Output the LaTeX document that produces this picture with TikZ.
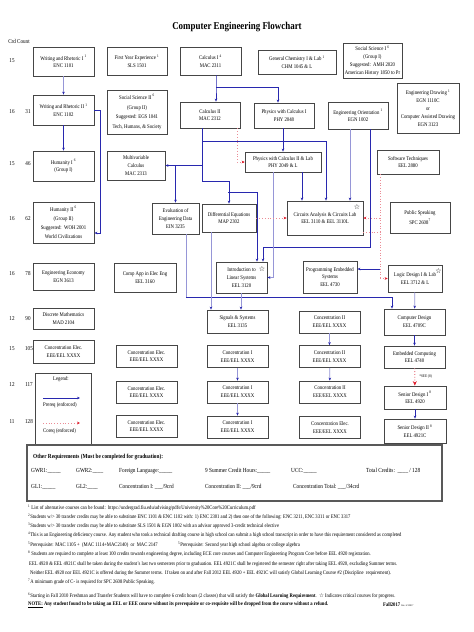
\documentclass[tikz,border=0pt]{standalone}
\usepackage{fontspec}
\setmainfont{Liberation Serif}[FakeStretch=0.85]
\newfontfamily\symfont{DejaVu Sans}
\usetikzlibrary{arrows.meta}
\definecolor{prqc}{RGB}{40,40,175}
\definecolor{prqp}{RGB}{150,150,215}
\definecolor{crqc}{RGB}{225,30,45}
\definecolor{crqp}{RGB}{235,140,150}
\definecolor{boxc}{RGB}{70,70,70}
\newcommand\crsfont{\fontsize{5.6}{7.8}\selectfont}
\newcommand\cntfont{\fontsize{6}{7}\selectfont}
\newcommand\notefont{\fontsize{5.45}{6}\selectfont}
\newcommand\reqfont{\fontsize{6.2}{7}\selectfont}
\tikzset{
  course/.style={draw=boxc, line width=0.8pt, align=center, inner sep=0.5pt, font=\crsfont},
  crs/.style 2 args={course, minimum width=#1pt, minimum height=#2pt},
  cnt/.style={font=\cntfont, inner sep=0pt},
  note/.style={font=\notefont, anchor=west, inner sep=0pt},
  req/.style={font=\reqfont, anchor=west, inner sep=0pt},
  prq/.style={draw=prqc, line width=0.8pt, -{Stealth[length=3pt,width=2.6pt]}},
  prql/.style={draw=prqp, line width=0.7pt, -{Stealth[length=3pt,width=2.6pt,color=prqc]}},
  crq/.style={draw=crqp, line width=0.8pt, dotted, -{Stealth[length=3pt,width=2.8pt,color=crqc]}},
  crql/.style={draw=crqp, line width=0.7pt, dotted},
  crit/.style={font=\symfont\bfseries\fontsize{7}{7}\selectfont, inner sep=0pt}
}
\begin{document}
\begin{tikzpicture}[x=1pt,y=-1pt]
\useasboundingbox (0,0) rectangle (474,632);
\fill[white] (0,0) rectangle (474,632);

\node[font=\bfseries\fontsize{10.5}{12}\selectfont] (ttl) at (237,27) {Computer Engineering Flowchart};

% credit counts
\node[cnt] (crd) at (19,41) {Crd Count};
\node[cnt] (ta) at (12,61) {15};
\node[cnt] (tb) at (12,112) {16}; \node[cnt] (sb) at (28,112) {31};
\node[cnt] (tc) at (12,164) {15}; \node[cnt] (sc) at (28,164) {46};
\node[cnt] (td) at (12,219) {16}; \node[cnt] (sd) at (28,219) {62};
\node[cnt] (te) at (12,274) {16}; \node[cnt] (se) at (28,274) {78};
\node[cnt] (tf) at (12,319) {12}; \node[cnt] (sf) at (28,319) {90};
\node[cnt] (tg) at (12,349) {15}; \node[cnt] (sg) at (29,349) {105};
\node[cnt] (th) at (12,385) {12}; \node[cnt] (sh) at (29,385) {117};
\node[cnt] (ti) at (12,422) {11}; \node[cnt] (si) at (29,422) {128};

% row 1
\node[crs={61}{29}] (wrI) at (63.5,61.5) {Writing and Rhetoric I \textsuperscript{1}\\ENC 1101};
\node[crs={60}{28}] (fye) at (137,61) {First Year Experience \textsuperscript{1}\\SLS 1501};
\node[crs={61}{28}] (calI) at (210.5,61) {Calculus I \textsuperscript{4}\\MAC 2311};
\node[crs={78}{24}] (chm) at (297,62) {General Chemistry I \& Lab \textsuperscript{1}\\CHM 1045 \& L};
\node[crs={59}{35}] (socI) at (372.5,60.5) {Social Science I \textsuperscript{6}\\(Group I)\\Suggested:\ \ AMH 2020\\American History 1850 to Pr};
% row 2
\node[crs={61}{30}] (wrII) at (63.5,110) {Writing and Rhetoric II \textsuperscript{1}\\ENC 1102};
\node[crs={60}{44}] (socII) at (137,112) {Social Science II \textsuperscript{6}\\[2pt](Group II)\\[2pt]Suggested: EGS 1041\\[2pt]Tech, Humans, \& Society};
\node[crs={60}{26}] (calII) at (210,115) {Calculus II\\MAC 2312};
\node[crs={60}{25}] (phyI) at (284,115.5) {Physics with Calculus I\\PHY 2048};
\node[crs={60}{27}] (ori) at (358,115.5) {Engineering Orientation \textsuperscript{1}\\EGN 1002};
\node[crs={62}{50}] (drw) at (428,108) {Engineering Drawing \textsuperscript{1}\\EGN 1110C\\or\\Computer Assisted Drawing\\EGN 3123};
% row 3
\node[crs={61}{30}] (humI) at (63.5,166) {Humanity I \textsuperscript{6}\\(Group I)};
\node[crs={58}{29}] (mvc) at (136,165.5) {Multivariable\\Calculus\\MAC 2313};
\node[crs={76}{20}] (phyII) at (283,162) {Physics with Calculus II \& Lab\\PHY 2049 \& L};
\node[crs={62}{24}] (swt) at (408,162) {Software Techniques\\EEL 2880};
% row 4
\node[crs={61}{41}] (humII) at (63.5,222.5) {Humanity II \textsuperscript{6}\\[1.5pt](Group II)\\[1.5pt]Suggested:\ \ WOH 2001\\[1.5pt]World Civilizations};
\node[crs={47}{31}] (ein) at (175.5,218.5) {Evaluation of\\Engineering Data\\EIN 3235};
\node[crs={54}{28}] (map) at (229,218) {Differential Equations\\MAP 2302};
\node[crs={76}{34}] (cir) at (325,218) {Circuits Analysis \& Circuits Lab\\EEL 3110 \& EEL 3110L};
\node[crs={60}{31}] (spc) at (420,217.5) {Public Speaking\\[2pt]SPC 2608\textsuperscript{7}};
% row 5
\node[crs={61}{27}] (eco) at (63.5,276.5) {Engineering Economy\\EGN 3613};
\node[crs={62}{29}] (cae) at (145,277.5) {Comp App in Elec Eng\\EEL 3160};
\node[crs={51}{31}] (lin) at (241.5,277.5) {Introduction to\\Linear Systems\\EEL 3120};
\node[crs={54}{32}] (pes) at (330,277) {Programming Embedded\\Systems\\EEL 4730};
\node[crs={54}{27}] (ldl) at (415,278.5) {Logic Design I \& Lab\hspace{7pt}\\EEL 3712 \& L};
% row 6
\node[crs={61}{21}] (dm) at (63.5,318.5) {Discrete Mathematics\\MAD 2104};
\node[crs={61}{23}] (sig) at (237.5,321.5) {Signals \& Systems\\EEL 3135};
\node[crs={61}{22}] (cIIa) at (329.5,322) {Concentration II\\EEE/EEL XXXX};
\node[crs={61}{26}] (cpd) at (414.5,322) {Computer Design\\EEL 4709C};
% row 7
\node[crs={61}{23}] (ceA) at (63.5,351.5) {Concentration Elec.\\EEE/EEL XXXX};
\node[crs={61}{22}] (ceB) at (146.5,356) {Concentration Elec.\\EEE/EEL XXXX};
\node[crs={61}{22}] (cIa) at (237.5,356.5) {Concentration I\\EEE/EEL XXXX};
\node[crs={61}{22}] (cIIb) at (329.5,356.5) {Concentration II\\EEE/EEL XXXX};
\node[crs={61}{22}] (emc) at (414.5,357) {Embedded Computing\\EEL 4740};
% row 8
\node[crs={61}{22}] (ceC) at (146.5,392) {Concentration Elec.\\EEE/EEL XXXX};
\node[crs={61}{22}] (cIb) at (237.5,392) {Concentration I\\EEE/EEL XXXX};
\node[crs={61}{22}] (cIIc) at (330,392) {Concentration II\\EEE/EEL XXXX};
\node[crs={62}{23}] (sdI) at (415,397.5) {Senior Design I \textsuperscript{8}\\EEL 4920};
% row 9
\node[crs={61}{22}] (ceD) at (146.5,426) {Concentration Elec.\\EEE/EEL XXXX};
\node[crs={61}{22}] (cIc) at (237.5,427) {Concentration I\\EEE/EEL XXXX};
\node[crs={61}{22}] (ceE) at (330,427.5) {Concentration Elec.\\EEE/EEL XXXX};
\node[crs={62}{24}] (sdII) at (415,431) {Senior Design II \textsuperscript{8}\\EEL 4921C};

% critical courses
\node[crit] (kcir) at (357,207) {☆};
\node[crit] (klin) at (262,269) {☆};
\node[crit] (kldl) at (438.5,271) {☆};

% junctions
\coordinate (jcI) at (216,87);
\coordinate (jpI) at (278,87);
\coordinate (jcII) at (202,181);
\coordinate (jcir) at (326,141);
\coordinate (jdq) at (237,140);
\coordinate (jde) at (228,192);
\coordinate (jln) at (257,192);
\coordinate (jpc) at (302,190);
\coordinate (jor) at (350,190);
\coordinate (jeo) at (370,247);
\coordinate (jel) at (263,247);
\coordinate (jpl) at (273,250);
\coordinate (jsw) at (380,278);
\coordinate (jpes) at ([yshift=8pt]pes.east);
\coordinate (jcout) at ([yshift=-14pt]cir.east);
\coordinate (jev) at (186,297);
\coordinate (jcd) at (392,297);
\coordinate (jds) at (211,300);
\coordinate (jls) at (241,300);

\draw[prql] (wrI) -- (wrII);
\draw[prq] (wrII) -- (humI);
\draw[prq] (wrII.east) -- ++(6,0) |- ([yshift=-10.5pt]humII.east);
\draw[prq] (calI.south -| jcI) -- (jcI) -- (jcI |- calII.north);
\draw[prq] (jcI) -- (jpI) -- (jpI |- phyI.north);
\draw[prq,-] (calII.south -| jcII) -- (jcII);
\draw[prq] (jcII |- jcir) -- (jcir) -- (jcir |- cir.north);
\draw[prq] (jcII |- mvc.east) -- (mvc.east);
\draw[prq] (ein.north |- mvc.east) -- (ein.north);
\draw[prq] (jcII) -| (map.north);
\draw[prq] (jde) -- (jln) -- (jln |- lin.north);
\draw[crq] (calII.south -| jdq) |- (phyII.west);
\draw[prq] (phyII.north |- phyI.south) -- (phyII.north);
\draw[prq] (phyII.south -| jpc) -- (jpc |- cir.north);
\draw[prql] (ori.south -| jor) -- (jor |- cir.north);
\draw[prq] (ori.south -| jeo) -- (jeo) -- (jel) -- (jel |- lin.north);
\draw[prql] (phyII.south -| jpl) |- (lin.east);
\draw[crq] (map.east) -- (cir.west);
%software techniques feeds three courses
\draw[crql] (swt.south -| jsw) -- (jsw);
\draw[crql] (jcout) -- (jsw |- jcout);
\draw[crq] (jsw |- cir.east) -- (cir.east);
\draw[prq] (jsw |- jpes) -- (jpes);
\draw[crq] (jsw |- ldl.west) -- (ldl.west);
\draw[prql,-] (ein.south -| jev) -- (jev);
\draw[prq] (jev) -- (jcd) -- (jcd |- cpd.north);
\draw[prql] (map.south -| jds) -- (jds |- sig.north);
\draw[prql] (lin.south -| jls) -- (jls |- sig.north);
\draw[prql] (ldl) -- (cpd);
\draw[prq] (cpd) -- (emc);
\draw[crq, line width=1.2pt, -{Stealth[length=4.5pt,width=4pt,color=crqc]}] (emc) -- (sdI)
  node[pos=0.45, right=4pt, font=\fontsize{4}{4}\selectfont, inner sep=0pt] (see) {*SEE (8)};
\draw[prq] (sdI) -- (sdII);
\draw[prql] (cIIa) -- (cIIb);
\draw[prql] (cIIb) -- (cIIc);
\draw[prql] (cIa) -- (cIb);
\draw[prql] (cIb) -- (cIc);

% legend
\node[crs={56}{71}] (lgd) at (63,408.5) {};
\node[font=\crsfont] (lgt) at (61,379) {Legend:};
\coordinate (lgA) at (43,398); \coordinate (lgB) at (80,398);
\coordinate (lgC) at (43,423); \coordinate (lgD) at (80,423);
\draw[prq] (lgA) -- (lgB);
\node[font=\crsfont, anchor=west, inner sep=0pt] (lgp) at (43,405) {Prereq (enforced)};
\draw[crq] (lgC) -- (lgD);
\node[font=\crsfont, anchor=west, inner sep=0pt] (lgc) at (43,431) {Coreq (enforced)};

% other requirements
\node[draw=black!65, line width=2.2pt, minimum width=415pt, minimum height=56pt] (oth) at (234.5,473) {};
\node[req, font=\reqfont\bfseries] (oh) at (33,457) {Other Requirements (Must be completed for graduation):};
\node[req] (ra) at (31,471) {GWR1:\_\_\_\_\_};
\node[req] (rb) at (76,471) {GWR2:\_\_\_\_};
\node[req] (rc) at (119,471) {Foreign Language:\_\_\_\_\_};
\node[req] (rd) at (205,471) {9 Summer Credit Hours:\_\_\_\_\_};
\node[req] (re) at (291,471) {UCC:\_\_\_\_\_};
\node[req] (rf) at (366,471) {Total Credits:\ \ \_\_\_\_ / 128};
\node[req] (rg) at (31,487) {GL1:\_\_\_\_\_};
\node[req] (rh) at (76,487) {GL2:\_\_\_\_};
\node[req] (ri) at (119,487) {Concentration I:\ \_\_\_/9crd};
\node[req] (rj) at (205,487) {Concentration II:\ \_\_\_/9crd};
\node[req] (rk) at (293,487) {Concentration Total:\ \_\_\_/34crd};

% footnotes
\node[note] (fa) at (28,508) {\textsuperscript{1} List of alternative courses can be found:\ \ https://undergrad.fiu.edu/advising/pdfs/University\%20Core\%20Curriculum.pdf};
\node[note] (fb) at (28,517) {\textsuperscript{2}Students w/> 30 transfer credits may be able to substitute ENC 1101 \& ENC 1102 with: 1) ENC 2301 and 2) then one of the following: ENC 3211, ENC 3311 or ENC 3317};
\node[note] (fc) at (28,526) {\textsuperscript{3}Students w/> 30 transfer credits may be able to substitute SLS 1501 \& EGN 1002 with an advisor approved 3-credit technical elective};
\node[note] (fd) at (28,535) {\textsuperscript{4}This is an Engineering deficiency course. Any student who took a technical drafting course in high school can submit a high school transcript in order to have this requirement considered as completed};
\node[note] (fe) at (28,545) {\textsuperscript{5}Prerequisite: MAC 1105 +\ \ (MAC 1114+MAC2140)\ \ or\ \ MAC 2147};
\node[note] (ff) at (178,545) {\textsuperscript{5}Prerequisite: Second year high school algebra or college algebra};
\node[note] (fg) at (28,554) {\textsuperscript{8} Students are required to complete at least 100 credits towards engineering degree, including ECE core courses and Computer Engineering Program Core before EEL 4920 registration.};
\node[note] (fh) at (29,564) {EEL 4920 \& EEL 4921C shall be taken during the student’s last two semesters prior to graduation. EEL 4921C shall be registered the semester right after taking EEL 4920, excluding Summer terms.};
\node[note] (fi) at (30,573) {Neither EEL 4920 nor EEL 4921C is offered during the Summer terms.\ \ If taken on and after Fall 2012 EEL 4920 + EEL 4921C will satisfy Global Learning Course \#2 (Discipline\ \ requirement).};
\node[note] (fj) at (28,582) {\textsuperscript{7}A minimum grade of C- is required for SPC 2608 Public Speaking.};
\node[note] (fk) at (28,596) {\textsuperscript{6}Starting in Fall 2010 Freshman and Transfer Students will have to complete 6 credit hours (2 classes) that will satisfy the \textbf{Global Learning Requirement}.\ \ {\symfont\bfseries ☆} Indicates critical courses for progress.};
\node[note, font=\notefont\bfseries] (fl) at (28,605) {\underline{NOTE:} Any student found to be taking an EEL or EEE course without its prerequisite or co-requisite will be dropped from the course without a refund.};
\node[note, font=\notefont\bfseries] (fm) at (383,605) {Fall2017 {\mdseries\fontsize{2.5}{3}\selectfont Rev. 6/1/2017}};
\end{tikzpicture}
\end{document}
